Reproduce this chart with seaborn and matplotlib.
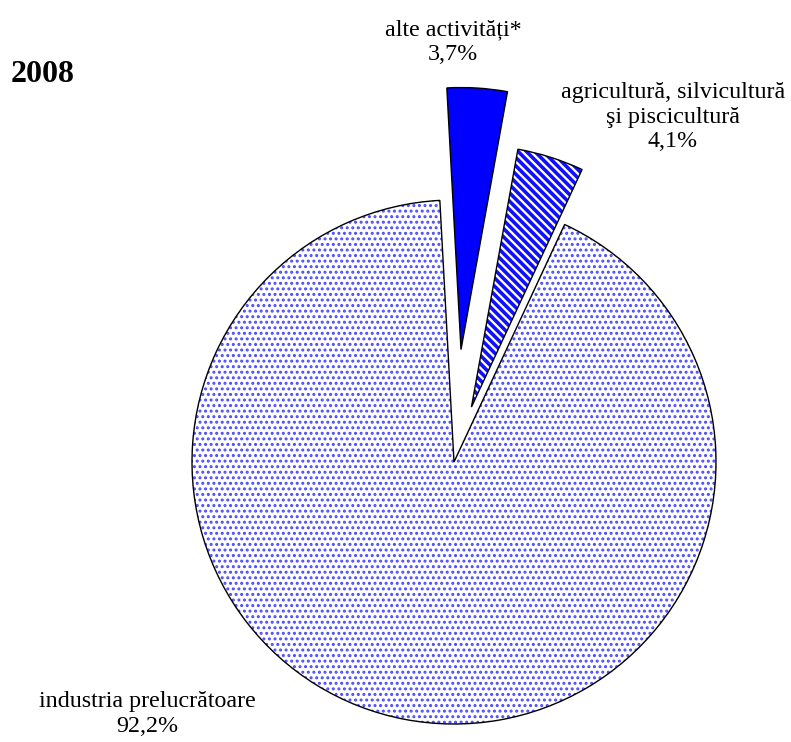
import matplotlib
matplotlib.use("Agg")
import matplotlib.pyplot as plt
import seaborn as sns

sns.set_theme(style="white")
plt.rcParams['font.family'] = ['Liberation Serif', 'DejaVu Serif']
plt.rcParams['hatch.linewidth'] = 1.2

# Data
categories = ["alte activități*", "agricultură, silvicultură\nşi piscicultură", "industria prelucrătoare"]
values = [3.7, 4.1, 92.2]
value_labels = ["3,7%", "4,1%", "92,2%"]
explode = [0.43, 0.22, 0.0]
title = "2008"

W, H = 791, 742
fig = plt.figure(figsize=(W / 100, H / 100), dpi=100)
ax = fig.add_axes([0, 0, 1, 1])

cx, cy, R = 454, 462, 262  # pixel center (from top) and radius
hatches = [None, "\\\\\\\\", "..."]
hatch_lw = [1.0, 2.6, 1.4]
hatch_col = ["#0000FF", "#1010ff", "#4a4aff"]
faces = ["#0000FF", "white", "white"]

# hatch layer (blue)
wedges, _ = ax.pie(values, explode=explode, startangle=93.1, counterclock=False,
                   colors=faces, wedgeprops=dict(linewidth=0))
for w, h, lw, hc in zip(wedges, hatches, hatch_lw, hatch_col):
    w.set_edgecolor(hc)
    w.set_linewidth(0)
    if h:
        w.set_hatch(h)
        if hasattr(w, "set_hatch_linewidth"):
            w.set_hatch_linewidth(lw)
        else:
            w._hatch_linewidth = lw
# outline layer (black)
wedges2, _ = ax.pie(values, explode=explode, startangle=93.1, counterclock=False,
                    wedgeprops=dict(linewidth=1.0, edgecolor="black", fill=False))

ax.set_xlim(-cx / R, (W - cx) / R)
ax.set_ylim(-(H - cy) / R, cy / R)
ax.set_aspect('auto')
ax.axis('off')

fs = 17.3
fig.text(43 / W, 1 - 74 / H, title, fontsize=23, fontweight='bold', ha='center',
         va='center', color='black')
fig.text(453 / W, 1 - 42 / H, categories[0] + "\n" + value_labels[0], fontsize=fs,
         ha='center', va='center', linespacing=1.2, color='black')
fig.text(673 / W, 1 - 117 / H, categories[1] + "\n" + value_labels[1], fontsize=fs,
         ha='center', va='center', linespacing=1.2, color='black')
fig.text(147 / W, 1 - 714 / H, categories[2] + "\n" + value_labels[2], fontsize=fs,
         ha='center', va='center', linespacing=1.2, color='black')

fig.savefig("out.png", dpi=100, facecolor="white")
